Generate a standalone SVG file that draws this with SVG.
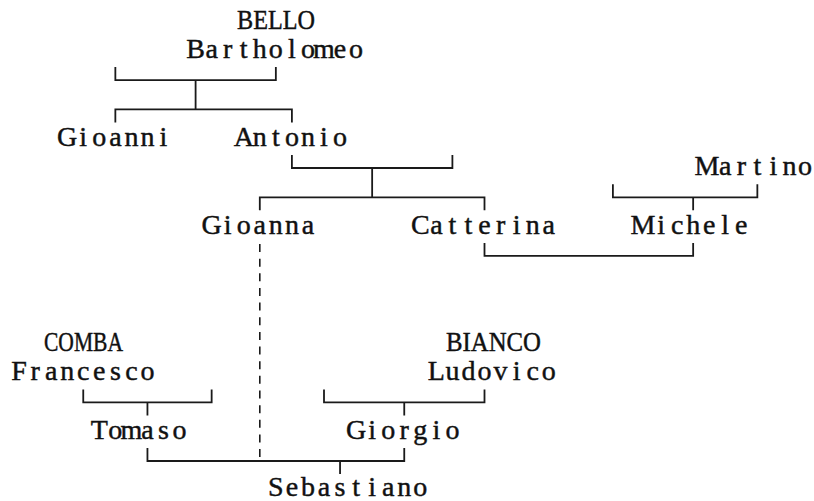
<svg xmlns="http://www.w3.org/2000/svg" width="814" height="501" viewBox="0 0 814 501">
<style>
text{font-family:"Liberation Serif","Times New Roman",serif;font-size:28px;fill:#111;stroke:#111;stroke-width:0.45;text-anchor:middle}
text.caps{text-anchor:start}
.ln{fill:none;stroke:#1a1a1a;stroke-width:1.8}
.dash{fill:none;stroke:#1a1a1a;stroke-width:1.6;stroke-dasharray:8 6.65}
</style>
<rect width="814" height="501" fill="#fff"/>
<g id="connectors">
<path class="ln" d="M115.35 67 V80.1 H275.85 V67 M195.6 80.1 V109.4"/>
<path class="ln" d="M115.35 122.4 V109.4 H291.9 V122.4"/>
<path class="ln" d="M291.9 155 V168 H452.4 V155 M372.15 168 V197.3"/>
<path class="ln" d="M259.8 210.3 V197.3 H484.5 V210.3"/>
<path class="ln" d="M612.9 184.3 V197.3 H757.35 V184.3 M693.15 197.3 V210.3"/>
<path class="ln" d="M484.5 242.9 V255.9 H693.15 V242.9"/>
<path class="dash" d="M259.8 244 V461"/>
<path class="ln" d="M83.25 389.4 V402.4 H211.65 V389.4 M147.45 402.4 V415.4"/>
<path class="ln" d="M324 389.4 V402.4 H484.5 V389.4 M404.25 402.4 V415.4"/>
<path class="ln" d="M147.45 448 V461 H404.25 V448 M340.05 461 V474"/>
</g>
<g id="bartholomeo">
<text class="caps" x="237" y="28.5" textLength="78" lengthAdjust="spacingAndGlyphs">BELLO</text>
<text x="195.6 211.65 227.7 243.75 259.8 275.85 291.9 307.95 324 340.05 356.1" y="57.8">Bartholomeo</text>
</g>
<g id="gioanni">
<text x="67.2 83.25 99.3 115.35 131.4 147.45 163.5" y="145.7">Gioanni</text>
</g>
<g id="antonio">
<text x="243.75 259.8 275.85 291.9 307.95 324 340.05" y="145.7">Antonio</text>
</g>
<g id="martino">
<text x="707 725.25 741.3 757.35 773.4 789.45 805" y="175">Martino</text>
</g>
<g id="gioanna">
<text x="211.65 227.7 243.75 259.8 275.85 291.9 307.95" y="233.6">Gioanna</text>
</g>
<g id="catterina">
<text x="420.3 436.35 452.4 468.45 484.5 500.55 516.6 532.65 548.7" y="233.6">Catterina</text>
</g>
<g id="michele">
<text x="643 661.05 677.1 693.15 709.2 725.25 741.3" y="233.6">Michele</text>
</g>
<g id="francesco">
<text class="caps" x="44" y="350.8" textLength="79" lengthAdjust="spacingAndGlyphs">COMBA</text>
<text x="19.05 35.1 51.15 67.2 83.25 99.3 115.35 131.4 147.45" y="380.1">Francesco</text>
</g>
<g id="ludovico">
<text class="caps" x="446" y="350.8" textLength="95" lengthAdjust="spacingAndGlyphs">BIANCO</text>
<text x="436.35 452.4 468.45 484.5 500.55 516.6 532.65 548.7" y="380.1">Ludovico</text>
</g>
<g id="tomaso">
<text x="99.3 115.35 131.4 147.45 163.5 179.55" y="438.7">Tomaso</text>
</g>
<g id="giorgio">
<text x="356.1 372.15 388.2 404.25 420.3 436.35 452.4" y="438.7">Giorgio</text>
</g>
<g id="sebastiano">
<text x="275.85 291.9 307.95 324 340.05 356.1 372.15 388.2 404.25 420.3" y="495.5">Sebastiano</text>
</g>
</svg>
